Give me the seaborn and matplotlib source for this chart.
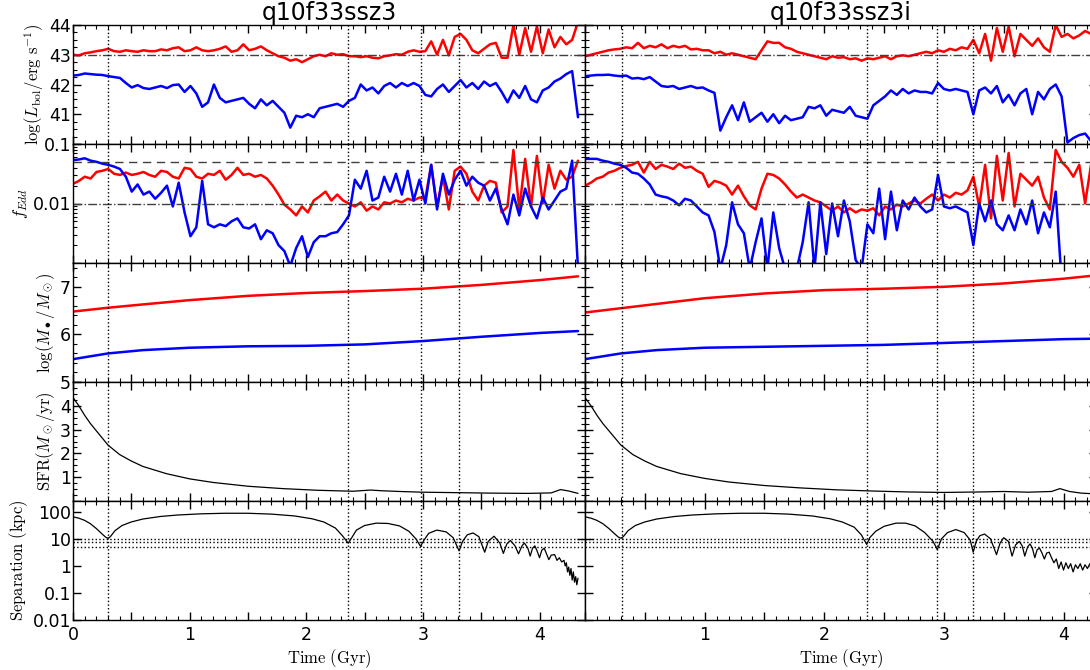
import numpy as np
import matplotlib
matplotlib.use("Agg")
import matplotlib.pyplot as plt
import matplotlib.ticker as mticker
import seaborn as sns

# ---------------- data ----------------
# sampling grids of the noisy accretion histories (Gyr)
time_left = np.linspace(0.0, 4.33, 87)
time_right = np.linspace(0.0, 4.23, 87)

# log(L_bol / erg s^-1)
lbol_red_left = [43.00, 42.98, 43.05, 43.08, 43.12, 43.15, 43.20, 43.12, 43.10, 43.15,
                 43.12, 43.10, 43.15, 43.12, 43.12, 43.18, 43.15, 43.22, 43.25, 43.12,
                 43.15, 43.25, 43.15, 43.12, 43.15, 43.20, 43.28, 43.10, 43.15, 43.35,
                 43.15, 43.20, 43.28, 43.15, 43.05, 42.95, 42.90, 42.80, 42.85, 42.75,
                 42.85, 42.95, 43.00, 42.95, 43.05, 43.00, 43.02, 42.95, 42.95, 42.92,
                 42.95, 42.90, 42.88, 42.95, 42.98, 43.02, 43.00, 43.10, 43.15, 43.10,
                 43.12, 43.45, 43.00, 43.50, 42.98, 43.60, 43.70, 43.50, 43.15, 43.05,
                 43.20, 43.35, 43.40, 42.90, 42.90, 44.00, 43.00, 43.90, 43.10, 43.95,
                 43.05, 43.85, 43.25, 43.60, 43.35, 43.50, 44.10]
lbol_blue_left = [42.30, 42.32, 42.37, 42.35, 42.33, 42.32, 42.28, 42.25, 42.22, 42.05,
                  41.90, 41.98, 41.88, 41.85, 41.90, 41.95, 41.88, 41.98, 42.00, 41.75,
                  41.95, 41.70, 41.25, 41.40, 42.00, 41.55, 41.40, 41.45, 41.50, 41.55,
                  41.35, 41.20, 41.50, 41.30, 41.45, 41.25, 41.05, 40.55, 40.95, 40.90,
                  41.00, 40.90, 41.20, 41.25, 41.30, 41.35, 41.25, 41.45, 41.55, 42.00,
                  41.80, 41.90, 41.70, 41.95, 42.05, 41.90, 42.05, 41.95, 42.05, 41.95,
                  41.65, 41.60, 41.85, 42.00, 41.75, 41.95, 42.15, 41.90, 42.05, 41.85,
                  42.10, 41.95, 42.05, 41.75, 41.40, 41.80, 41.55, 41.95, 41.50, 41.40,
                  41.80, 41.90, 42.10, 42.20, 42.35, 42.45, 40.90]
lbol_red_right = [42.95, 43.00, 43.05, 43.10, 43.15, 43.18, 43.20, 43.25, 43.22, 43.40,
                  43.22, 43.30, 43.25, 43.35, 43.22, 43.30, 43.25, 43.30, 43.18, 43.20,
                  43.15, 43.15, 43.05, 43.10, 43.00, 43.05, 43.00, 42.95, 42.90, 42.85,
                  43.15, 43.45, 43.40, 43.40, 43.25, 43.20, 43.10, 43.05, 43.00, 42.95,
                  42.90, 42.85, 42.95, 42.90, 42.92, 42.85, 42.88, 42.80, 42.88, 42.85,
                  42.90, 42.95, 42.85, 42.95, 42.98, 42.95, 43.00, 43.05, 43.10, 43.05,
                  43.15, 43.10, 43.20, 43.15, 43.25, 43.20, 43.50, 43.05, 43.70, 42.80,
                  43.90, 43.10, 43.95, 42.95, 43.70, 43.50, 43.30, 43.55, 43.25, 43.10,
                  44.00, 43.60, 43.70, 43.55, 43.65, 43.80, 43.70]
lbol_blue_right = [42.28, 42.30, 42.32, 42.32, 42.33, 42.30, 42.28, 42.30, 42.20, 42.22,
                   42.18, 42.25, 42.10, 41.95, 41.92, 41.95, 41.85, 41.90, 41.95, 41.88,
                   41.90, 41.80, 41.72, 40.45, 40.90, 41.30, 40.80, 41.40, 40.75, 40.90,
                   41.05, 40.75, 41.00, 40.70, 40.95, 40.80, 40.85, 40.90, 41.25, 41.20,
                   41.30, 40.95, 41.15, 41.10, 41.05, 41.25, 40.95, 40.90, 40.85, 41.30,
                   41.45, 41.60, 41.80, 41.65, 41.85, 41.70, 41.80, 41.75, 41.75, 41.70,
                   42.05, 41.85, 41.80, 41.85, 41.80, 41.75, 41.00, 41.80, 41.90, 41.70,
                   41.95, 41.40, 41.65, 41.30, 41.70, 41.85, 41.00, 41.75, 41.50, 41.85,
                   42.00, 41.60, 40.05, 40.20, 40.30, 40.35, 40.10]

# log10(f_Edd)
logf_red_left = [-1.67, -1.62, -1.55, -1.58, -1.47, -1.45, -1.42, -1.50, -1.52, -1.48,
                 -1.52, -1.50, -1.47, -1.52, -1.55, -1.45, -1.47, -1.55, -1.58, -1.40,
                 -1.42, -1.55, -1.58, -1.50, -1.52, -1.45, -1.60, -1.52, -1.40, -1.52,
                 -1.50, -1.55, -1.52, -1.58, -1.70, -1.85, -2.02, -2.10, -2.20, -2.05,
                 -2.15, -1.95, -1.88, -1.80, -1.95, -1.85, -1.95, -2.00, -2.05, -1.98,
                 -2.12, -2.05, -2.10, -1.98, -2.00, -1.95, -1.98, -1.92, -1.95, -1.90,
                 -1.92, -1.35, -2.05, -1.55, -2.10, -1.45, -1.38, -1.50, -1.80, -1.95,
                 -1.70, -1.62, -1.65, -2.15, -2.05, -1.10, -2.10, -1.25, -2.05, -1.20,
                 -2.00, -1.35, -1.75, -1.45, -1.60, -1.55, -1.28]
logf_blue_left = [-1.27, -1.26, -1.24, -1.28, -1.30, -1.33, -1.35, -1.38, -1.42, -1.55,
                  -1.80, -1.68, -1.85, -1.80, -1.92, -1.82, -1.70, -2.05, -1.65, -2.15,
                  -2.55, -2.40, -1.62, -2.35, -2.40, -2.35, -2.38, -2.30, -2.25, -2.40,
                  -2.42, -2.35, -2.60, -2.45, -2.50, -2.70, -2.80, -3.05, -2.75, -2.55,
                  -2.90, -2.65, -2.55, -2.55, -2.50, -2.48, -2.35, -2.20, -1.60, -1.75,
                  -1.45, -1.95, -1.90, -1.55, -1.80, -1.50, -1.85, -1.45, -1.95, -1.60,
                  -2.00, -1.35, -2.10, -1.50, -1.85, -1.60, -1.45, -1.70, -1.55, -1.65,
                  -1.70, -1.95, -1.75, -2.10, -2.35, -1.85, -2.20, -1.75, -2.05, -2.25,
                  -1.90, -2.10, -1.95, -1.80, -1.75, -1.28, -3.10]
logf_red_right = [-1.70, -1.65, -1.58, -1.55, -1.48, -1.45, -1.40, -1.37, -1.35, -1.30,
                  -1.48, -1.30, -1.42, -1.35, -1.38, -1.42, -1.33, -1.40, -1.38, -1.45,
                  -1.50, -1.72, -1.62, -1.65, -1.70, -1.85, -1.70, -1.88, -2.03, -2.10,
                  -1.75, -1.50, -1.52, -1.58, -1.68, -1.80, -1.90, -1.85, -1.90, -1.95,
                  -1.98, -2.05, -2.12, -2.05, -2.15, -2.08, -2.15, -2.10, -2.12, -2.08,
                  -2.20, -2.05, -2.10, -2.02, -2.05, -2.00, -1.95, -2.00, -1.92, -1.85,
                  -1.95, -1.85, -1.90, -1.82, -1.85, -1.78, -1.55, -2.05, -1.35, -2.25,
                  -1.20, -1.95, -1.15, -2.05, -1.50, -1.60, -1.70, -1.55, -1.90, -2.10,
                  -1.10, -1.30, -1.40, -1.55, -1.35, -2.00, -1.35]
logf_blue_right = [-1.25, -1.25, -1.25, -1.28, -1.30, -1.33, -1.35, -1.40, -1.48, -1.50,
                   -1.58, -1.68, -1.85, -1.88, -1.90, -1.95, -2.03, -1.92, -1.95, -2.05,
                   -2.15, -2.20, -2.48, -3.10, -2.70, -1.98, -2.35, -2.50, -3.10, -2.65,
                   -2.25, -3.10, -2.15, -2.75, -3.10, -3.10, -3.10, -2.65, -1.98, -3.10,
                   -1.98, -2.85, -2.00, -2.55, -1.95, -2.30, -2.95, -3.10, -2.35, -2.50,
                   -1.75, -2.60, -1.80, -2.45, -1.95, -2.10, -1.90, -2.05, -2.15, -2.10,
                   -1.52, -2.05, -2.08, -2.05, -2.10, -2.15, -2.70, -2.00, -2.30, -1.95,
                   -2.35, -2.45, -2.20, -2.45, -2.10, -2.35, -1.95, -2.50, -2.15, -2.40,
                   -1.80, -3.30, -3.30, -3.30, -3.30, -3.30, -3.30]

# log(M_bh / M_sun), smooth curves
mass_time_left = [0.0, 0.3, 0.6, 1.0, 1.5, 2.0, 2.5, 3.0, 3.5, 4.0, 4.33]
mass_red_left = [6.48, 6.56, 6.63, 6.72, 6.81, 6.87, 6.91, 6.96, 7.04, 7.14, 7.22]
mass_blue_left = [5.48, 5.60, 5.67, 5.72, 5.75, 5.76, 5.79, 5.86, 5.95, 6.03, 6.07]
mass_time_right = [0.0, 0.3, 0.6, 1.0, 1.5, 2.0, 2.5, 3.0, 3.5, 4.0, 4.27]
mass_red_right = [6.46, 6.55, 6.64, 6.76, 6.86, 6.93, 6.96, 7.00, 7.07, 7.17, 7.24]
mass_blue_right = [5.48, 5.60, 5.67, 5.72, 5.74, 5.76, 5.78, 5.82, 5.86, 5.90, 5.91]

# star formation rate (M_sun / yr)
sfr_time_left = [0.0, 0.05, 0.1, 0.15, 0.2, 0.3, 0.4, 0.5, 0.6, 0.8, 1.0, 1.2, 1.5, 1.8,
                 2.1, 2.4, 2.55, 2.65, 2.8, 3.0, 3.3, 3.6, 3.9, 4.1, 4.18, 4.25, 4.33]
sfr_left = [4.35, 4.0, 3.6, 3.25, 2.95, 2.35, 1.95, 1.68, 1.45, 1.15, 0.93, 0.78, 0.62, 0.52,
            0.45, 0.41, 0.46, 0.43, 0.40, 0.37, 0.35, 0.33, 0.32, 0.34, 0.48, 0.42, 0.32]
sfr_time_right = [0.0, 0.05, 0.1, 0.15, 0.2, 0.3, 0.4, 0.5, 0.6, 0.8, 1.0, 1.2, 1.5, 1.8,
                  2.1, 2.4, 2.7, 3.0, 3.3, 3.5, 3.7, 3.9, 3.97, 4.05, 4.15, 4.27]
sfr_right = [4.35, 4.0, 3.6, 3.25, 2.95, 2.35, 1.95, 1.68, 1.45, 1.15, 0.95, 0.80, 0.65, 0.55,
             0.47, 0.42, 0.38, 0.36, 0.38, 0.40, 0.37, 0.40, 0.52, 0.40, 0.33, 0.30]

# BH separation (kpc)
sep_time_left = [0.00, 0.05, 0.10, 0.15, 0.20, 0.25, 0.28, 0.30, 0.32, 0.36, 0.42, 0.50, 0.60,
                 0.75, 0.90, 1.10, 1.30, 1.50, 1.70, 1.90, 2.05, 2.15, 2.25, 2.31, 2.36, 2.39,
                 2.43, 2.50, 2.60, 2.70, 2.80, 2.88, 2.94, 2.98, 3.01, 3.05, 3.12, 3.20, 3.26,
                 3.31, 3.34, 3.38, 3.43, 3.48, 3.53, 3.56, 3.61, 3.66, 3.69, 3.72, 3.75, 3.79,
                 3.82, 3.85, 3.87, 3.90, 3.92, 3.94, 3.96, 3.98, 4.00, 4.02, 4.04, 4.06, 4.08,
                 4.10, 4.13, 4.15, 4.17, 4.19, 4.21, 4.22, 4.23, 4.24, 4.25, 4.26, 4.27, 4.28,
                 4.29, 4.30, 4.31, 4.32, 4.33]
sep_left = [65, 58, 48, 36, 24, 15, 11.5, 10.5, 12, 20, 31, 42, 54,
            67, 76, 84, 88, 88, 82, 70, 55, 42, 25, 13, 6.9, 11,
            21, 31, 38, 37, 30, 19, 10, 5.3, 9, 16, 21, 18, 11,
            3.6, 8, 14, 16.5, 12, 3.2, 8, 12.5, 7, 2.9, 6.5, 8.7, 5.5,
            2.8, 5.5, 7, 4.5, 2.3, 4.5, 5.5, 3.5, 2.0, 3.8, 4.5, 2.8, 1.7,
            2.5, 2.6, 1.6, 2.0, 1.4, 1.6, 1.0, 1.3, 0.6, 0.9, 0.45, 0.8, 0.3,
            0.6, 0.25, 0.4, 0.2, 0.35]
sep_time_right = [0.00, 0.05, 0.10, 0.15, 0.20, 0.25, 0.28, 0.30, 0.32, 0.36, 0.42, 0.50, 0.60,
                  0.75, 0.90, 1.10, 1.30, 1.50, 1.70, 1.90, 2.05, 2.15, 2.25, 2.31, 2.355,
                  2.38, 2.43, 2.50, 2.60, 2.68, 2.76, 2.84, 2.91, 2.945, 2.98, 3.03, 3.10,
                  3.17, 3.22, 3.245, 3.27, 3.30, 3.34, 3.39, 3.44, 3.47, 3.50, 3.54, 3.57,
                  3.60, 3.63, 3.655, 3.676, 3.70, 3.72, 3.74, 3.76, 3.78, 3.80, 3.82, 3.84,
                  3.86, 3.88, 3.90, 3.92, 3.94, 3.96, 3.98, 4.00, 4.02, 4.04, 4.06, 4.08,
                  4.10, 4.12, 4.14, 4.16, 4.18, 4.20, 4.22, 4.24, 4.26]
sep_right = [65, 58, 48, 36, 24, 15, 11.5, 10.5, 12, 20, 31, 42, 54,
             67, 76, 84, 88, 88, 82, 70, 55, 42, 27, 14, 6.2,
             11, 19, 29, 38, 38, 30, 17, 8, 4, 10, 17, 22,
             17, 9, 3.2, 8, 13, 15, 10, 2.6, 7, 11, 8, 2.3,
             6, 8, 5.5, 2.3, 5, 6.5, 4.5, 2.0, 4, 4.5, 3, 1.8,
             3, 3.2, 2.0, 1.3, 1.8, 0.8, 1.4, 0.7, 1.3, 0.8, 1.2, 0.6,
             1.1, 0.8, 1.2, 0.7, 1.1, 0.8, 1.2, 0.75, 1.0]

# pericentre markers (Gyr) and reference levels
peri_left = [0.30, 2.36, 2.98, 3.31]
peri_right = [0.31, 2.355, 2.945, 3.245]
sep_levels = [10, 7.5, 5]
titles = ["q10f33ssz3", "q10f33ssz3i"]

# ---------------- style ----------------
sns.set_theme(style="ticks")
plt.rcParams.update({
    "font.family": ["DejaVu Sans"],
    "mathtext.fontset": "cm",
    "text.color": "black",
    "axes.labelcolor": "black",
    "axes.edgecolor": "black",
    "axes.linewidth": 1.0,
    "xtick.direction": "in", "ytick.direction": "in",
    "xtick.top": True, "ytick.right": True,
    "xtick.major.size": 6, "ytick.major.size": 6,
    "xtick.minor.size": 3, "ytick.minor.size": 3,
    "xtick.major.width": 1, "ytick.major.width": 1,
    "xtick.minor.width": 0.8, "ytick.minor.width": 0.8,
    "xtick.minor.visible": True, "ytick.minor.visible": True,
    "xtick.color": "black", "ytick.color": "black",
    "xtick.labelcolor": "black", "ytick.labelcolor": "black",
    "xtick.labelsize": 12.5, "ytick.labelsize": 12.5,
    "xtick.major.pad": 4, "ytick.major.pad": 1.5,
})

fig = plt.figure(figsize=(10.9, 6.7), dpi=100)
col_left = [73 / 1090, 585 / 1090]
col_w = 512 / 1090
row_h = 119 / 670
row_top = 1 - 25 / 670

ylabels = [r"$\log(L_{\rm bol}/{\rm erg\ s^{-1}})$", r"$f_{Edd}$",
           r"$\log(M_\bullet/M_\odot)$", r"${\rm SFR}(M_\odot/{\rm yr})$",
           r"${\rm Separation\ (kpc)}$"]


def draw_column(ci, t, lr, lb, fr, fb, tm, mr, mb, ts, sfr, tsep, sep, peri, xmax):
    axes = []
    for r in range(5):
        ax = fig.add_axes([col_left[ci], row_top - (r + 1) * row_h, col_w, row_h],
                          sharex=axes[0] if axes else None)
        axes.append(ax)

    a0, a1, a2, a3, a4 = axes
    sns.lineplot(x=t, y=lr, ax=a0, color="red", lw=1.8, estimator=None)
    sns.lineplot(x=t, y=lb, ax=a0, color="blue", lw=1.8, estimator=None)
    a0.axhline(43, color="0.25", ls="-.", lw=1)
    a0.set_ylim(40, 44)
    a0.set_yticks([40, 41, 42, 43, 44], ["", "41", "42", "43", "44"])
    a0.yaxis.set_minor_locator(mticker.AutoMinorLocator(4))

    sns.lineplot(x=t, y=10 ** np.array(fr), ax=a1, color="red", lw=1.8, estimator=None)
    sns.lineplot(x=t, y=10 ** np.array(fb), ax=a1, color="blue", lw=1.8, estimator=None)
    a1.set_yscale("log")
    a1.axhline(0.05, color="0.25", ls="--", lw=1, dashes=(6, 4))
    a1.axhline(0.01, color="0.25", ls="-.", lw=1)
    a1.set_ylim(0.001, 0.1)
    a1.set_yticks([0.001, 0.01, 0.1], ["", "0.01", "0.1"])
    a1.yaxis.set_minor_formatter(mticker.NullFormatter())

    sns.lineplot(x=tm, y=mr, ax=a2, color="red", lw=1.8, estimator=None)
    sns.lineplot(x=tm, y=mb, ax=a2, color="blue", lw=1.8, estimator=None)
    a2.set_ylim(5, 7.5)
    a2.set_yticks([5, 6, 7], ["5", "6", "7"])
    a2.yaxis.set_minor_locator(mticker.AutoMinorLocator(5))

    sns.lineplot(x=ts, y=sfr, ax=a3, color="black", lw=0.9, estimator=None)
    a3.set_ylim(0, 5)
    a3.set_yticks([0, 1, 2, 3, 4, 5], ["", "1", "2", "3", "4", ""])
    a3.yaxis.set_minor_locator(mticker.AutoMinorLocator(4))

    sns.lineplot(x=tsep, y=sep, ax=a4, color="black", lw=0.9, estimator=None)
    a4.set_yscale("log")
    for lev in sep_levels:
        a4.axhline(lev, color="black", ls=":", lw=1)
    a4.set_ylim(0.01, 250)
    a4.set_yticks([0.01, 0.1, 1, 10, 100], ["0.01", "0.1", "1", "10", "100"])
    a4.yaxis.set_minor_formatter(mticker.NullFormatter())

    for r, ax in enumerate(axes):
        for p in peri:
            ax.axvline(p, color="black", ls=":", lw=1)
        ax.set_xlim(0, xmax)
        ax.xaxis.set_major_locator(mticker.MultipleLocator(0.5))
        ax.xaxis.set_minor_locator(mticker.MultipleLocator(0.1))
        ax.set_xlabel("")
        if ci == 0:
            ax.set_ylabel(ylabels[r], fontsize=12, labelpad=2)
        else:
            ax.set_ylabel("")
            ax.tick_params(labelleft=False)
        if r < 4:
            ax.tick_params(labelbottom=False)

    first = 0 if ci == 0 else 1
    a4.xaxis.set_major_formatter(mticker.FuncFormatter(
        lambda v, p: f"{v:.0f}" if abs(v - round(v)) < 1e-6 and round(v) >= first else ""))
    a4.set_xlabel(r"${\rm Time\ (Gyr)}$", fontsize=12, labelpad=3)
    a0.set_title(titles[ci], fontsize=17, pad=3, color="black")
    return axes


draw_column(0, time_left, lbol_red_left, lbol_blue_left, logf_red_left, logf_blue_left,
            mass_time_left, mass_red_left, mass_blue_left, sfr_time_left, sfr_left,
            sep_time_left, sep_left, peri_left, 4.39)
draw_column(1, time_right, lbol_red_right, lbol_blue_right, logf_red_right, logf_blue_right,
            mass_time_right, mass_red_right, mass_blue_right, sfr_time_right, sfr_right,
            sep_time_right, sep_right, peri_right, 4.28)

fig.savefig("out.png", dpi=100)
